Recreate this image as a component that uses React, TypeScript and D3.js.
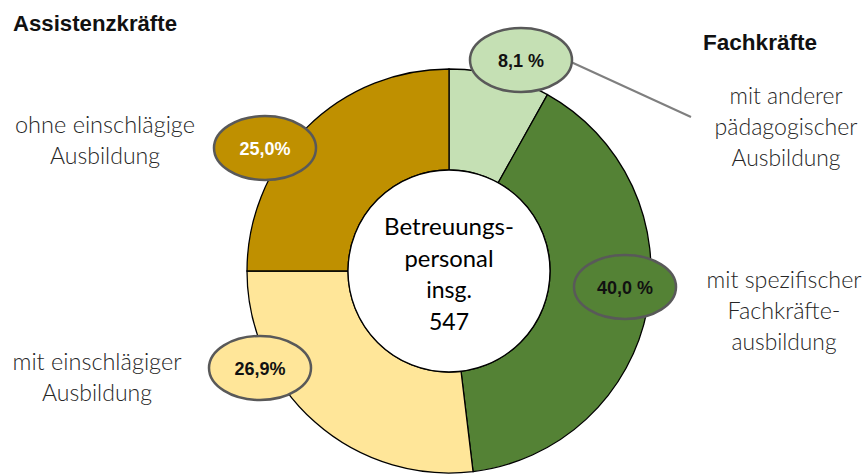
import React from "react";
import * as d3 from "d3";

// ---- data ----
const categories = [
  "mit anderer pädagogischer Ausbildung",
  "mit spezifischer Fachkräfteausbildung",
  "mit einschlägiger Ausbildung",
  "ohne einschlägige Ausbildung",
];
const values = [8.1, 40.0, 26.9, 25.0];
const valueLabels = ["8,1 %", "40,0 %", "26,9%", "25,0%"];
const categoryLines = [
  ["mit anderer", "pädagogischer", "Ausbildung"],
  ["mit spezifischer", "Fachkräfte-", "ausbildung"],
  ["mit einschlägiger", "Ausbildung"],
  ["ohne einschlägige", "Ausbildung"],
];
const groupTitles = ["Assistenzkräfte", "Fachkräfte"];
const centerLines = ["Betreuungs-", "personal", "insg.", "547"];

// ---- styles / layout ----
const sliceColors = ["#c5e0b4", "#548235", "#ffe699", "#bf9000"];
const valueTextColors = ["#111", "#111", "#111", "#ffffff"];
const W = 867;
const H = 476;
const cx = 449;
const cy = 271;
const outerR = 202;
const innerR = 101;
const bubblePos: [number, number][] = [
  [521, 60],
  [625, 287],
  [260, 368],
  [265, 148],
];
const labelLayout = [
  { x: 786, y: 104, widths: [113, 143, 109] },
  { x: 784, y: 288, widths: [155, 113, 105] },
  { x: 97, y: 370, widths: [169, 110] },
  { x: 105, y: 133, widths: [180, 110] },
];
const titleLayout = [
  { x: 13, y: 31, w: 164 },
  { x: 703, y: 50, w: 114 },
];
const centerBaselines = [235, 266.5, 298, 330];
const centerWidths = [130, 89, 0, 0];
const lineGap = 31;

export default function App() {
  const pie = d3
    .pie<number>()
    .sort(null)
    .startAngle(0)
    .endAngle(2 * Math.PI)
    .value((d) => d);
  const arcs = pie(values);
  const arc = d3
    .arc<d3.PieArcDatum<number>>()
    .innerRadius(innerR)
    .outerRadius(outerR);

  const catFont = "Lato, 'Open Sans', sans-serif";
  const boldFont = "'Liberation Sans', Arial, sans-serif";

  return (
    <svg
      width={W}
      height={H}
      style={{ position: "absolute", left: 0, top: 0, background: "#fff" }}
    >
      <rect x={0} y={0} width={W} height={H} fill="#fff" />
      <g transform={`translate(${cx},${cy})`}>
        {arcs.map((a, i) => (
          <path
            key={categories[i]}
            d={arc(a) || ""}
            fill={sliceColors[i]}
            stroke="#000"
            strokeWidth={1.3}
          />
        ))}
        <circle r={innerR} fill="#fff" stroke="#000" strokeWidth={1.3} />
      </g>

      {/* center text */}
      {centerLines.map((t, i) => (
        <text
          key={t}
          x={cx}
          y={centerBaselines[i]}
          textAnchor="middle"
          fontFamily={catFont}
          fontSize={23}
          fill="#000"
          {...(centerWidths[i]
            ? { textLength: centerWidths[i], lengthAdjust: "spacingAndGlyphs" }
            : {})}
        >
          {t}
        </text>
      ))}

      {/* leader line for small slice */}
      <line
        x1={571}
        y1={62}
        x2={691}
        y2={117}
        stroke="#7f7f7f"
        strokeWidth={2}
      />

      {/* value bubbles */}
      {arcs.map((a, i) => (
        <g key={"b" + i} transform={`translate(${bubblePos[i][0]},${bubblePos[i][1]})`}>
          <ellipse
            rx={51}
            ry={32}
            fill={sliceColors[i]}
            stroke="#595959"
            strokeWidth={2.5}
          />
          <text
            y={6.5}
            textAnchor="middle"
            fontFamily={boldFont}
            fontWeight="bold"
            fontSize={18}
            fill={valueTextColors[i]}
          >
            {valueLabels[i]}
          </text>
        </g>
      ))}

      {/* category labels */}
      {categoryLines.map((lines, i) =>
        lines.map((t, j) => (
          <text
            key={i + "-" + j}
            x={labelLayout[i].x}
            y={labelLayout[i].y + j * lineGap}
            textAnchor="middle"
            fontFamily={catFont}
            fontSize={23}
            fontWeight={300}
            fill="#262626"
            textLength={labelLayout[i].widths[j]}
            lengthAdjust="spacingAndGlyphs"
          >
            {t}
          </text>
        ))
      )}

      {/* group titles */}
      {groupTitles.map((t, i) => (
        <text
          key={t}
          x={titleLayout[i].x}
          y={titleLayout[i].y}
          fontFamily={boldFont}
          fontWeight="bold"
          fontSize={22}
          fill="#111"
          textLength={titleLayout[i].w}
          lengthAdjust="spacingAndGlyphs"
        >
          {t}
        </text>
      ))}
    </svg>
  );
}
